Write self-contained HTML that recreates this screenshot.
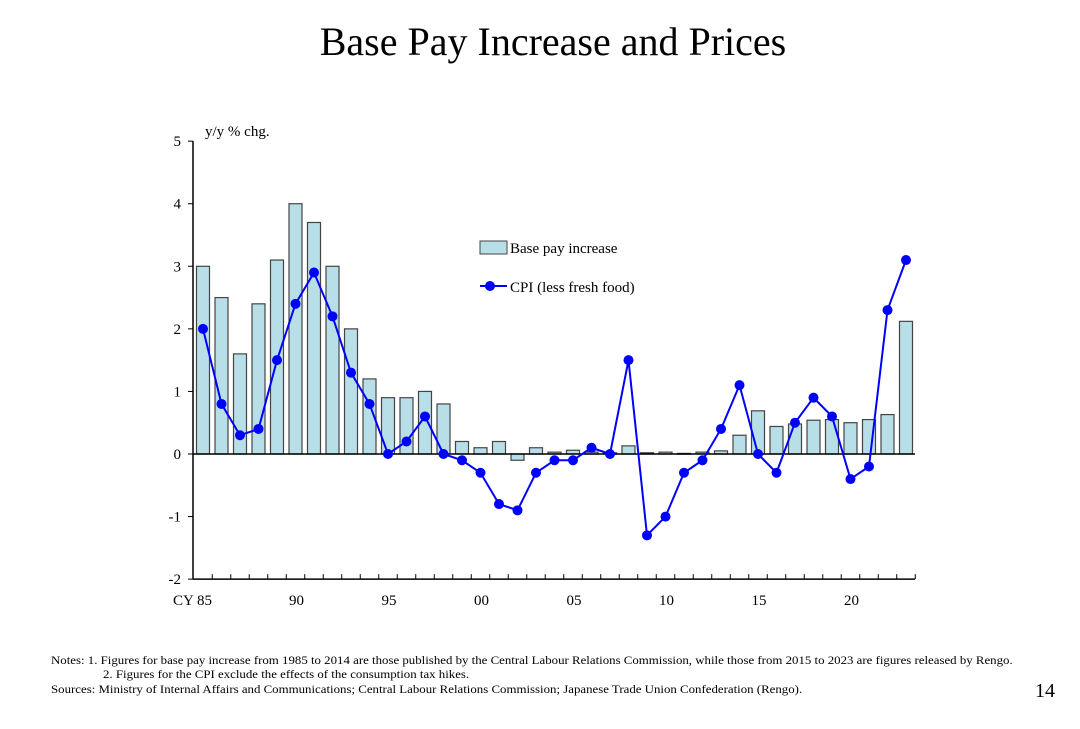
<!DOCTYPE html>
<html><head><meta charset="utf-8"><style>
body{margin:0;background:#fff;font-family:"Liberation Serif",serif;}
#c{position:absolute;left:0;top:0;width:1080px;height:724px;}
.n{position:absolute;left:51px;font-size:11.8px;color:#000;white-space:nowrap;transform-origin:0 0;transform:scaleX(1.09);}
</style></head><body>
<div id="c">
<svg width="1080" height="724" font-family="Liberation Serif, serif">
<text x="553" y="55" font-size="40" text-anchor="middle">Base Pay Increase and Prices</text>
<g id="plot"></g>
<text x="205" y="136" font-size="15">y/y % chg.</text>
<g>
<rect x="480" y="241" width="27" height="13" fill="#b8dfe8" stroke="#444"/>
<text x="510" y="253" font-size="15">Base pay increase</text>
<line x1="480" y1="286" x2="507" y2="286" stroke="#0000ff" stroke-width="2"/>
<circle cx="490" cy="286" r="5" fill="#0000ff"/>
<text x="510" y="292" font-size="15">CPI (less fresh food)</text>
</g>
<text x="1045" y="697" font-size="20" text-anchor="middle">14</text>
</svg>
<div class="n" style="top:653px">Notes: 1. Figures for base pay increase from 1985 to 2014 are those published by the Central Labour Relations Commission, while those from 2015 to 2023 are figures released by Rengo.</div>
<div class="n" style="top:667px;left:103px">2. Figures for the CPI exclude the effects of the consumption tax hikes.</div>
<div class="n" style="top:682px">Sources: Ministry of Internal Affairs and Communications; Central Labour Relations Commission; Japanese Trade Union Confederation (Rengo).</div>
</div>
<script>
const years=[];for(let y=1985;y<=2023;y++)years.push(y);
const basePay=[3.0,2.5,1.6,2.4,3.1,4.0,3.7,3.0,2.0,1.2,0.9,0.9,1.0,0.8,0.2,0.1,0.2,-0.1,0.1,0.03,0.06,0.03,0.02,0.13,0.02,0.03,0.01,0.03,0.05,0.3,0.69,0.44,0.48,0.54,0.55,0.5,0.55,0.63,2.12];
const cpi=[2.0,0.8,0.3,0.4,1.5,2.4,2.9,2.2,1.3,0.8,0,0.2,0.6,0,-0.1,-0.3,-0.8,-0.9,-0.3,-0.1,-0.1,0.1,0,1.5,-1.3,-1.0,-0.3,-0.1,0.4,1.1,0,-0.3,0.5,0.9,0.6,-0.4,-0.2,2.3,3.1];
const yTicks=[-2,-1,0,1,2,3,4,5];
const xLabels=[[1985,"CY 85"],[1990,"90"],[1995,"95"],[2000,"00"],[2005,"05"],[2010,"10"],[2015,"15"],[2020,"20"]];
const NS="http://www.w3.org/2000/svg";
const g=document.getElementById('plot');
const X=y=>203+(y-1985)*18.5;
const Y=v=>454-v*62.57;
function mk(t,a){const e=document.createElementNS(NS,t);for(const k in a)e.setAttribute(k,a[k]);g.appendChild(e);return e;}
basePay.forEach((v,i)=>{const x=X(years[i]);const y0=Y(0),y1=Y(v);
const r=mk('rect',{x:x-6.5,y:Math.min(y0,y1),width:13,height:Math.max(Math.abs(y1-y0),0.8),fill:'#b8dfe8',stroke:'#444','stroke-width':1.2});

});
const zl=mk('line',{x1:193,x2:915,y1:Y(0),y2:Y(0),stroke:'#000','stroke-width':1.5});


const ya=mk('line',{x1:193,x2:193,y1:Y(5),y2:Y(-2),stroke:'#000','stroke-width':1.5});


yTicks.forEach(t=>{mk('line',{x1:188,x2:193,y1:Y(t),y2:Y(t),stroke:'#000'});
const tx=mk('text',{x:181,y:Y(t)+5,'font-size':15,'text-anchor':'end'});tx.textContent=t;

});
const xa=mk('line',{x1:193,x2:915,y1:Y(-2),y2:Y(-2),stroke:'#000','stroke-width':1.5});


years.forEach(y=>mk('line',{x1:X(y)+9.25,x2:X(y)+9.25,y1:Y(-2),y2:Y(-2)-5,stroke:'#000'}));
xLabels.forEach(([y,l])=>{const tx=mk('text',{x:y===1985?X(y)+9:X(y)+1,y:605,'font-size':15,'text-anchor':y===1985?'end':'middle'});tx.textContent=l;

});
const pl=mk('polyline',{points:cpi.map((v,i)=>X(years[i])+','+Y(v)).join(' '),fill:'none',stroke:'#0000ff','stroke-width':2});


cpi.forEach((v,i)=>{const c=mk('circle',{cx:X(years[i]),cy:Y(v),r:5,fill:'#0000ff'});

});
</script>
</body></html>
